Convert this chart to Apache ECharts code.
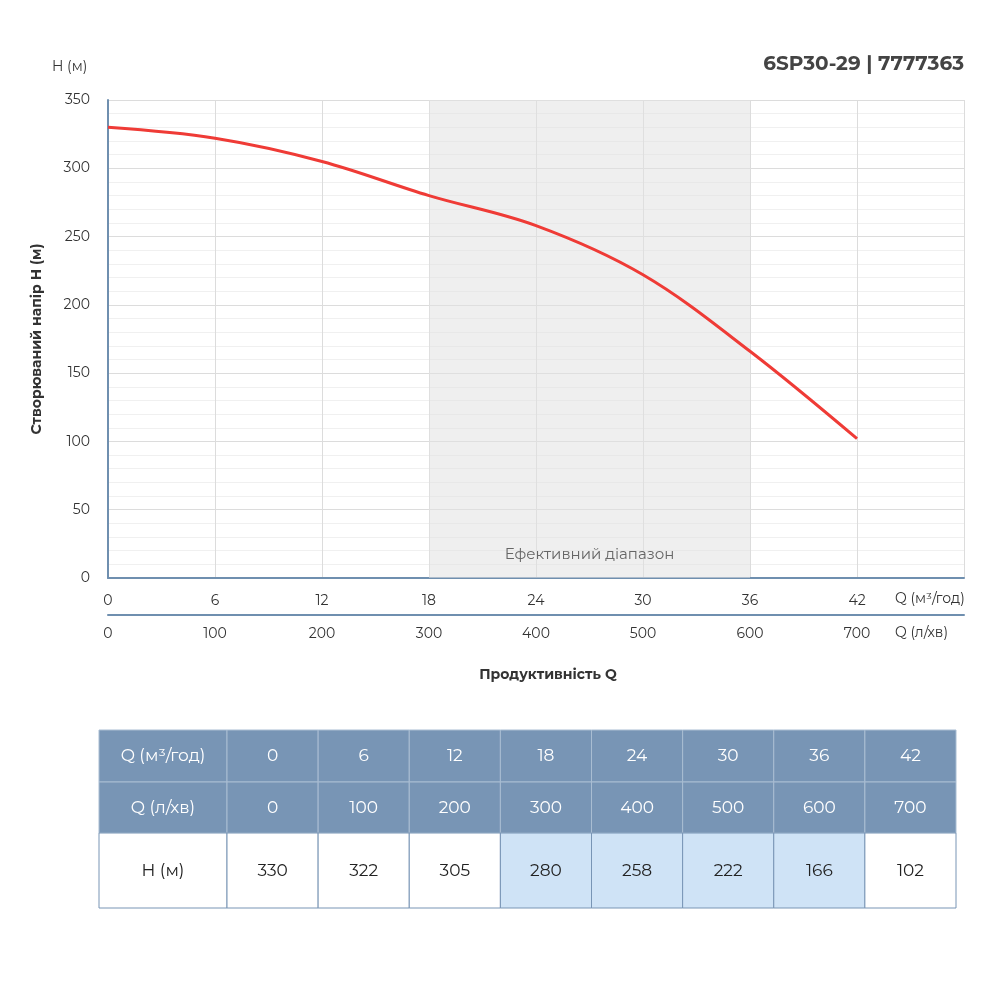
<!DOCTYPE html>
<html><head><meta charset="utf-8">
<script src="https://cdn.jsdelivr.net/npm/echarts@6/dist/echarts.min.js"></script>
<style>html,body{margin:0;padding:0;background:#fff}#c{width:1000px;height:1000px}</style>
</head><body><div id="c"></div>
<script>
const qM3 = [0, 6, 12, 18, 24, 30, 36, 42];
const qL = [0, 100, 200, 300, 400, 500, 600, 700];
const head = [330, 322, 305, 280, 258, 222, 166, 102];
const effective = [18, 36];
const title = '6SP30-29 | 7777363';

const chart = echarts.init(document.getElementById('c'));
const F = 'Montserrat, Inter, "Noto Sans", sans-serif';

// table graphics
const tbl = [];
const tx = 99, tw0 = 128, tw = (956 - 227) / 8;
const rows = [{y:730,h:52},{y:782,h:51},{y:833,h:75}];
const rowLabels = ['Q (м³/год)', 'Q (л/хв)', 'H (м)'];
const rowVals = [qM3, qL, head];
rows.forEach((r, ri) => {
  for (let ci = 0; ci <= 8; ci++) {
    const x = ci === 0 ? tx : 227 + (ci - 1) * tw;
    const w = ci === 0 ? tw0 : tw;
    let fill = ri < 2 ? '#7895b5' : '#ffffff';
    if (ri === 2 && ci >= 4 && ci <= 7) fill = '#cfe3f6';
    tbl.push({type:'rect', shape:{x, y:r.y, width:w, height:r.h},
      style:{fill, stroke: ri < 2 ? '#a9bdd2' : '#7895b5', lineWidth:1}});
    const txt = ci === 0 ? rowLabels[ri] : String(rowVals[ri][ci - 1]);
    tbl.push({type:'text', x:x + w/2, y:r.y + r.h/2,
      style:{text:txt, fill: ri < 2 ? '#ffffff' : '#222', font:'17px ' + F, align:'center', verticalAlign:'middle'}});
  }
});

chart.setOption({
  animation:false,
  grid:{left:108, right:36, top:100, bottom:422},
  xAxis:[{
    type:'value', min:0, max:48, interval:6, position:'bottom',
    axisLine:{lineStyle:{color:'#6f8faf', width:2}}, axisTick:{show:false},
    axisLabel:{color:'#333', fontSize:14, fontFamily:F, margin:16, formatter:v => v === 48 ? '' : v},
    splitLine:{lineStyle:{color:'#dcdcdc'}},
    minorTick:{show:false}
  },{
    type:'value', min:0, max:800, interval:100, position:'bottom', offset:37,
    axisLine:{show:true, lineStyle:{color:'#6f8faf', width:2}}, axisTick:{show:false},
    axisLabel:{color:'#333', fontSize:14, fontFamily:F, margin:12, formatter:v => v === 800 ? '' : v},
    splitLine:{show:false}
  }],
  yAxis:{
    type:'value', min:0, max:350, interval:50,
    name:'Створюваний напір H (м)', nameLocation:'middle', nameGap:64,
    nameTextStyle:{color:'#333', fontSize:14, fontWeight:'bold', fontFamily:F},
    axisLine:{show:true, lineStyle:{color:'#6f8faf', width:2}}, axisTick:{show:false},
    axisLabel:{color:'#333', fontSize:14, fontFamily:F, margin:18},
    splitLine:{lineStyle:{color:'#dcdcdc'}},
    minorTick:{show:false, splitNumber:5},
    minorSplitLine:{show:true, lineStyle:{color:'#f0f0f0'}}
  },
  series:[{
    type:'line', smooth:0.35, symbol:'none', xAxisIndex:0,
    data: qM3.map((q, i) => [q, head[i]]),
    lineStyle:{color:'#ef3b36', width:3},
    label:{show:true, position:'top', distance:12, color:'#222', fontSize:18, fontWeight:'bold', fontFamily:F,
      formatter:p => p.value[1]},
    labelLayout:p => p.dataIndex === 0 ? {dx:22, dy:-2} : {},
    markArea:{silent:true, itemStyle:{color:'rgba(225,225,225,0.55)'},
      label:{show:true, position:'insideBottom', distance:16, color:'#666', fontSize:15, fontFamily:F, formatter:'Ефективний діапазон'},
      data:[[{xAxis:effective[0]},{xAxis:effective[1]}]]}
  }],
  graphic:[
    {type:'text', left:52, top:60, style:{text:'H (м)', fill:'#333', font:'14px ' + F}},
    {type:'text', right:36, top:54, style:{text:title, fill:'#444', font:'bold 20px ' + F}},
    {type:'text', x:895, y:592, style:{text:'Q (м³/год)', fill:'#333', font:'14px ' + F}},
    {type:'text', x:895, y:626, style:{text:'Q (л/хв)', fill:'#333', font:'14px ' + F}},
    {type:'text', x:548, y:668, style:{text:'Продуктивність Q', fill:'#333', font:'bold 14px ' + F, align:'center'}},
    ...tbl
  ]
});
</script></body></html>
